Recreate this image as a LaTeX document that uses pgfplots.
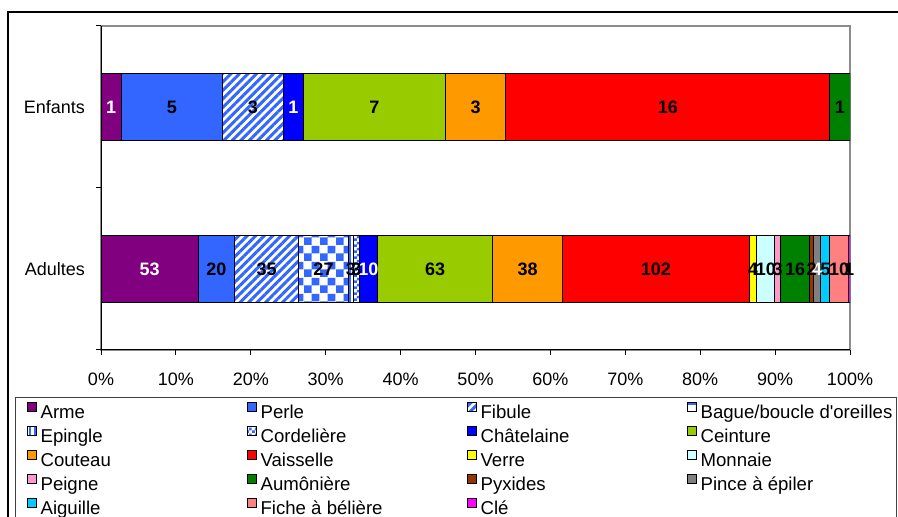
\documentclass[border=0pt]{standalone}
\usepackage{fontspec}
\setmainfont{Liberation Sans}
\usepackage{pgfplots}
\pgfplotsset{compat=1.18}
\usepackage{pgfplotstable}
\usetikzlibrary{patterns,patterns.meta}

\definecolor{cArme}{HTML}{800080}
\definecolor{cPerle}{HTML}{3366FF}
\definecolor{cChat}{HTML}{0000FF}
\definecolor{cCein}{HTML}{99CC00}
\definecolor{cCout}{HTML}{FF9900}
\definecolor{cVais}{HTML}{FF0000}
\definecolor{cVerre}{HTML}{FFFF00}
\definecolor{cMonn}{HTML}{CCFFFF}
\definecolor{cPeig}{HTML}{FF99CC}
\definecolor{cAumo}{HTML}{008000}
\definecolor{cPyx}{HTML}{993300}
\definecolor{cPince}{HTML}{808080}
\definecolor{cAig}{HTML}{00CCFF}
\definecolor{cFiche}{HTML}{FF8080}
\definecolor{cCle}{HTML}{FF00FF}

\pgfdeclarepatternformonly{bigcheck}{\pgfpointorigin}{\pgfpoint{8pt}{8pt}}{\pgfpoint{8pt}{8pt}}{%
  \pgfpathrectangle{\pgfpointorigin}{\pgfpoint{4pt}{4pt}}%
  \pgfpathrectangle{\pgfpoint{4pt}{4pt}}{\pgfpoint{4pt}{4pt}}%
  \pgfusepath{fill}}
\pgfdeclarepatternformonly{smallcheck}{\pgfpointorigin}{\pgfpoint{3pt}{3pt}}{\pgfpoint{3pt}{3pt}}{%
  \pgfpathrectangle{\pgfpointorigin}{\pgfpoint{1.5pt}{1.5pt}}%
  \pgfpathrectangle{\pgfpoint{1.5pt}{1.5pt}}{\pgfpoint{1.5pt}{1.5pt}}%
  \pgfusepath{fill}}

\pgfplotstableread{
y tot Arme Perle Fibule Bague Epingle Cordeliere Chatelaine Ceinture Couteau Vaisselle Verre Monnaie Peigne Aumoniere Pyxides Pince Aiguille Fiche Cle
0 409 53 20 35 27 3 3 10 63 38 102 4 10 3 16 2 4 5 10 1
1 37 1 5 3 0 0 0 1 7 3 16 0 0 0 1 0 0 0 0 0
}\data

\newcommand\bplot[3]{%
  \addplot[draw=black, line width=0.5pt, #2]
    table[x expr=\thisrow{#1}/\thisrow{tot}*100, y=y, meta=#1] {\data};
  \addlegendentry{#3}}
\newcommand\lw[1]{\makebox[95.5pt][l]{#1}}

\begin{document}
\begin{tikzpicture}
\useasboundingbox (0,0) rectangle (449pt,-258.5pt);
\draw[line width=0.6pt] (4pt,-265pt) -- (4pt,-6pt) -- (455pt,-6pt);
\begin{axis}[
  at={(50.5pt,-175pt)}, anchor=south west,
  scale only axis, width=374.5pt, height=162pt,
  xbar stacked, bar width=0.41,
  xmin=0, xmax=100, ymin=-0.5, ymax=1.5,
  axis x line*=bottom, axis y line*=left,
  axis line style={line width=0.5pt, black},
  axis background/.style={draw=black!45, line width=0.6pt},
  tick align=outside, major tick length=2.6pt,
  tick style={black, line width=0.5pt},
  xtick={0,10,...,100},
  xticklabel={\pgfmathprintnumber{\tick}\%},
  xticklabel style={yshift=-5.3pt},
  ytick={-0.5,0.5,1.5}, yticklabels={},
  extra y ticks={0,1}, extra y tick labels={Adultes,Enfants},
  extra y tick style={major tick length=0pt},
  yticklabel style={xshift=-4.5pt},
  /pgf/number format/assume math mode=true,
  tick label style={font=\fontsize{9}{10}\selectfont},
  point meta=explicit,
  nodes near coords={\pgfmathfloatifflags{\pgfplotspointmeta}{0}{}{\pgfmathprintnumber{\pgfplotspointmeta}}},
  nodes near coords align={center},
  every node near coord/.append style={font=\bfseries\fontsize{9}{10}\selectfont, text=black, inner sep=0pt},
  legend columns=4,
  legend image code/.code={\path (0pt,0pt) (10pt,0pt); \draw[#1, draw=black, line width=0.4pt] (5.5pt,1.1pt) rectangle (10pt,5.6pt);},
  legend style={at={(-0.1148,-0.1451)}, anchor=north west, draw=black!75, line width=0.6pt,
    font=\fontsize{9.3}{11}\selectfont, inner xsep=0pt, inner ysep=2.35pt,
    row sep=1.1pt, column sep=0pt,
    nodes={text height=7pt, text depth=2pt, inner ysep=0.5pt, inner xsep=2pt}},
  legend cell align=left,
]
\bplot{Arme}{fill=cArme, every node near coord/.append style={text=white}}{\lw{Arme}}
\bplot{Perle}{fill=cPerle}{\lw{Perle}}
\bplot{Fibule}{pattern={Lines[angle=45,distance=3pt,line width=1.5pt]}, pattern color=cPerle}{\lw{Fibule}}
\bplot{Bague}{pattern=bigcheck, pattern color=cPerle}{Bague/boucle d\textquotesingle oreilles}
\bplot{Epingle}{pattern={Lines[angle=90,distance=2.5pt,line width=1.2pt]}, pattern color=cPerle}{\lw{Epingle}}
\bplot{Cordeliere}{pattern=smallcheck, pattern color=cPerle}{\lw{Cordelière}}
\bplot{Chatelaine}{fill=cChat, every node near coord/.append style={text=white}}{\lw{Châtelaine}}
\bplot{Ceinture}{fill=cCein}{Ceinture}
\bplot{Couteau}{fill=cCout}{\lw{Couteau}}
\bplot{Vaisselle}{fill=cVais}{\lw{Vaisselle}}
\bplot{Verre}{fill=cVerre}{\lw{Verre}}
\bplot{Monnaie}{fill=cMonn}{Monnaie}
\bplot{Peigne}{fill=cPeig}{\lw{Peigne}}
\bplot{Aumoniere}{fill=cAumo}{\lw{Aumônière}}
\bplot{Pyxides}{fill=cPyx}{\lw{Pyxides}}
\bplot{Pince}{fill=cPince, every node near coord/.append style={text=white}}{Pince à épiler}
\bplot{Aiguille}{fill=cAig}{\lw{Aiguille}}
\bplot{Fiche}{fill=cFiche}{\lw{Fiche à bélière}}
\bplot{Cle}{fill=cCle}{\lw{Clé}}
\end{axis}
\end{tikzpicture}
\end{document}
